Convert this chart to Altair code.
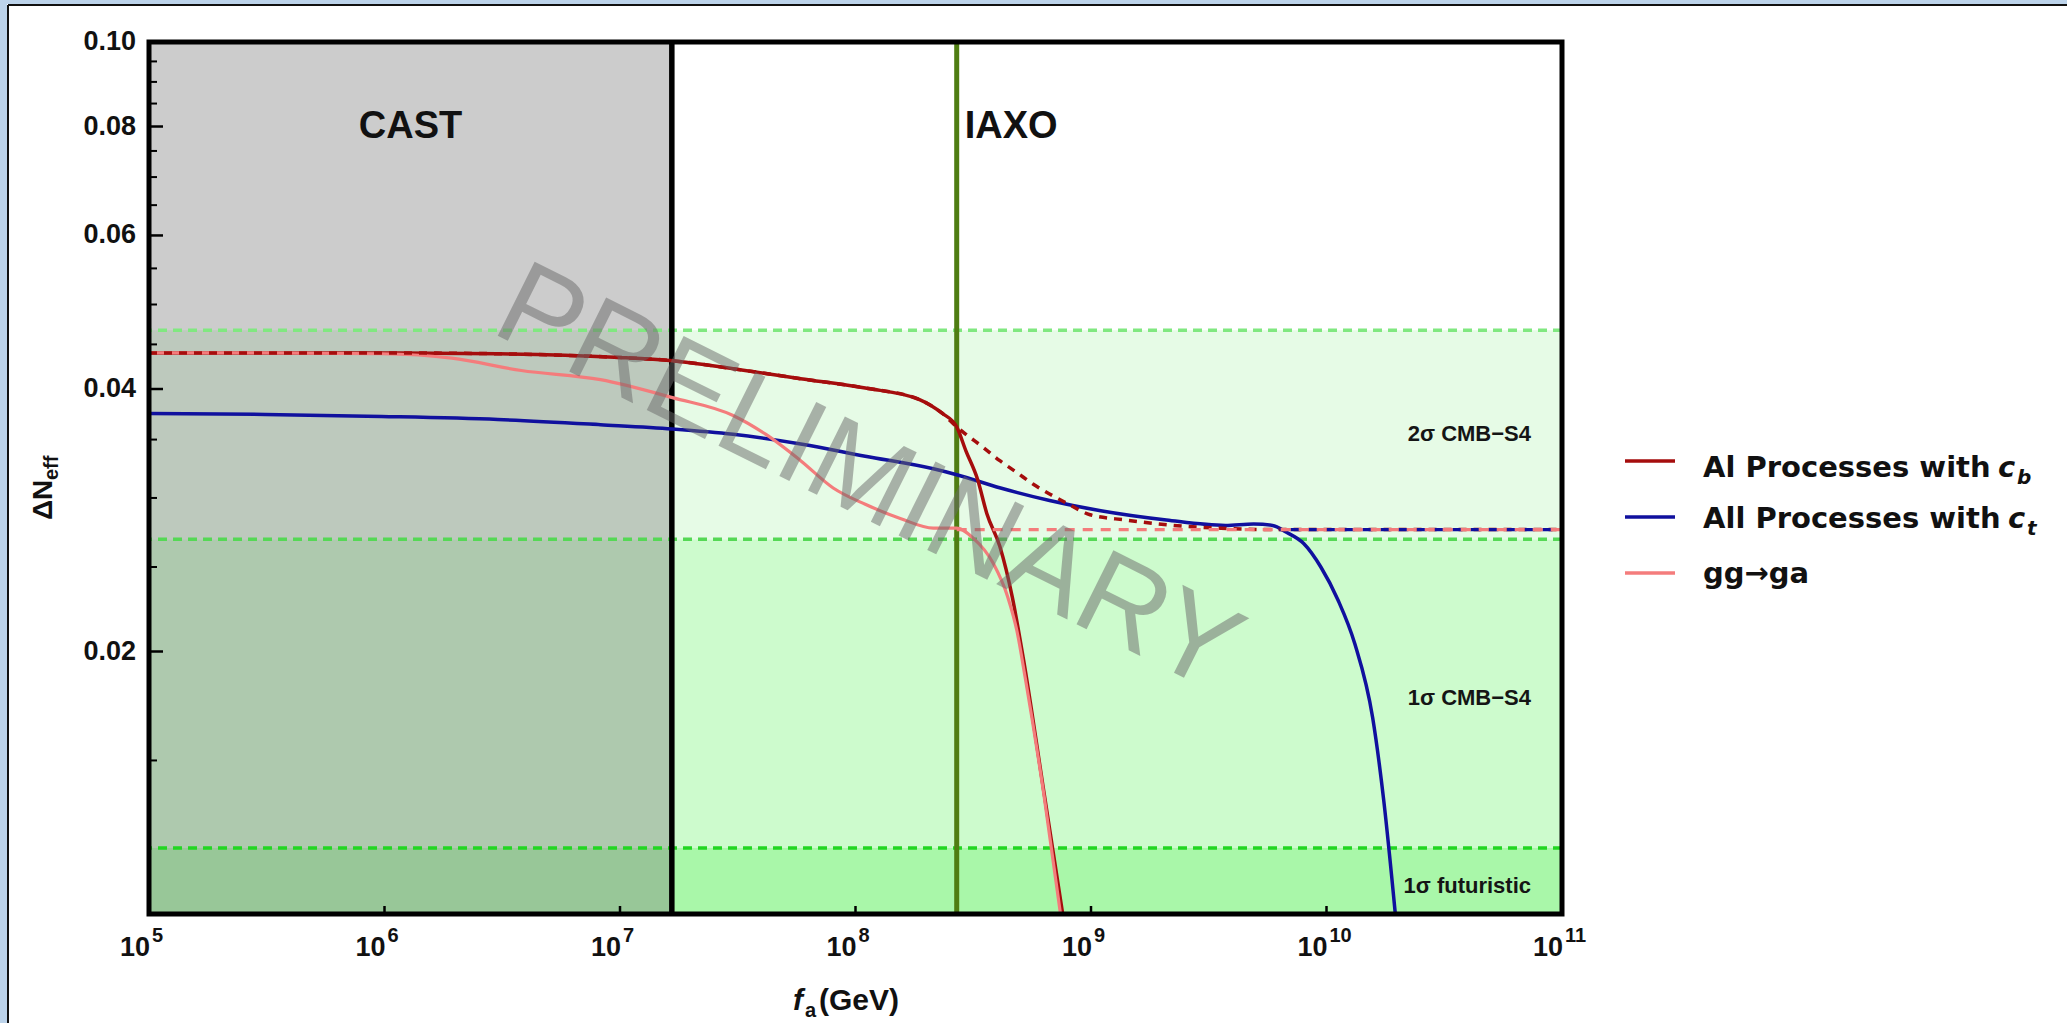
import altair as alt
import pandas as pd

# ---------------------------------------------------------------- page / plot geometry
PAGE_W, PAGE_H = 2067, 1023
L, T, W, H = 149, 42, 1413, 872

SANS = "Liberation Sans, Arial, Helvetica, sans-serif"
WIDE = "DejaVu Sans, Verdana, sans-serif"

# ---------------------------------------------------------------- axis ranges
FA_MIN, FA_MAX = 1e5, 1e11
DN_MIN, DN_MAX = 0.01, 0.10

x_tick_fa = [1e5, 1e6, 1e7, 1e8, 1e9, 1e10, 1e11]
x_tick_exp = ["5", "6", "7", "8", "9", "10", "11"]
y_tick_major = [0.02, 0.04, 0.06, 0.08, 0.10]
y_tick_minor = [0.015, 0.025, 0.03, 0.035, 0.045, 0.05, 0.055,
                0.065, 0.07, 0.075, 0.085, 0.09, 0.095]

# ---------------------------------------------------------------- experimental reach
cast_fa = 1.66e7
iaxo_fa = 2.69e8

# ---------------------------------------------------------------- CMB-S4 sensitivity bands
band_names = ["1σ futuristic", "1σ CMB−S4", "2σ CMB−S4"]
band_lo = [0.0100, 0.0119, 0.0269]
band_hi = [0.0119, 0.0269, 0.0467]
band_fill = ["#a9f7a9", "#cdfbcd", "#e6fbe6"]
band_edge_color = ["#22d622", "#55d855", "#80e880"]
band_label_dn = [0.01076, 0.0177, 0.0355]

# ---------------------------------------------------------------- Delta N_eff curves
# all processes with c_b (solid part)
cb_fa = [1.0e5, 3.12e5, 9.72e5, 3.03e6, 9.46e6, 1.67e7, 3.02e7, 5.85e7, 1.10e8, 1.87e8,
         2.09e8, 2.34e8, 2.69e8, 2.94e8, 3.30e8, 3.61e8, 4.10e8, 4.63e8, 5.15e8, 6.31e8, 7.67e8]
cb_dn = [0.0440, 0.0440, 0.0440, 0.0439, 0.0435, 0.0431, 0.0422, 0.0411, 0.0401, 0.0389,
         0.0383, 0.0375, 0.0362, 0.0340, 0.0315, 0.0288, 0.0264, 0.0231, 0.0197, 0.0138, 0.0098]
# c_b continuation (dashed)
cb_tail_fa = [2.94e8, 3.48e8, 4.10e8, 4.83e8, 5.69e8, 6.70e8, 7.87e8, 9.91e8, 1.41e9,
              2.24e9, 3.55e9, 5.62e9, 1.0e11]
cb_tail_dn = [0.0355, 0.0343, 0.0331, 0.0321, 0.0311, 0.0303, 0.0296, 0.0287, 0.0283,
              0.0279, 0.0277, 0.0276, 0.0276]

# all processes with c_t
ct_fa = [1.0e5, 3.12e5, 9.72e5, 3.03e6, 8.26e6, 1.67e7, 3.02e7, 5.85e7, 1.10e8, 2.14e8,
         2.69e8, 4.13e8, 6.67e8, 1.10e9, 2.09e9, 3.72e9, 4.9e9, 5.9e9, 6.76e9, 8.0e9, 9.46e9,
         1.12e10, 1.32e10, 1.57e10, 1.75e10, 1.96e10]
ct_dn = [0.0375, 0.0374, 0.0372, 0.0369, 0.0364, 0.0360, 0.0355, 0.0346, 0.0335, 0.0324,
         0.0319, 0.0308, 0.0298, 0.0290, 0.0283, 0.0279, 0.0280, 0.0279, 0.0274, 0.0266, 0.0250,
         0.0229, 0.0204, 0.0168, 0.0135, 0.0100]
ct_tail_fa = [6.31e9, 1.0e11]
ct_tail_dn = [0.0276, 0.0276]

# g g -> g a
gg_fa = [1.0e5, 3.12e5, 9.72e5, 1.93e6, 3.81e6, 8.26e6, 1.67e7, 3.02e7, 4.15e7, 5.85e7,
         8.04e7, 1.10e8, 1.56e8, 2.14e8, 2.69e8, 3.15e8, 3.86e8, 4.43e8, 4.85e8, 5.25e8,
         6.31e8, 7.50e8]
gg_dn = [0.0440, 0.0440, 0.0439, 0.0434, 0.0420, 0.0410, 0.0391, 0.0373, 0.0355, 0.0331,
         0.0308, 0.0295, 0.0284, 0.0277, 0.0277, 0.0270, 0.0252, 0.0231, 0.0211, 0.0187,
         0.0137, 0.0098]
gg_tail_fa = [2.69e8, 1.0e11]
gg_tail_dn = [0.0276, 0.0276]

series_label = ["Al Processes with", "All Processes with", "gg→ga"]
series_sub = ["b", "t", ""]
series_color = ["#a50d0d", "#10109e", "#f47c7c"]

# ---------------------------------------------------------------- helpers
xs = alt.Scale(type="log", domain=[FA_MIN, FA_MAX], nice=False)
ys = alt.Scale(type="log", domain=[DN_MIN, DN_MAX], nice=False)


def X(field):
    return alt.X(f"{field}:Q", scale=xs, axis=None)


def Y(field):
    return alt.Y(f"{field}:Q", scale=ys, axis=None)


def one(value="", key="t"):
    return pd.DataFrame({key: [value]})


def label(text, x, y, **kw):
    return alt.Chart(one(text)).mark_text(**kw).encode(
        x=alt.value(x), y=alt.value(y), text="t:N")


def curve(fa, dn, color, width, dash=None, offset=None):
    props = dict(color=color, strokeWidth=width, interpolate="monotone", clip=True)
    if dash:
        props["strokeDash"] = dash
    if offset:
        props["strokeDashOffset"] = offset
    return alt.Chart(pd.DataFrame({"fa": fa, "dn": dn})).mark_line(**props).encode(
        x=X("fa"), y=Y("dn"), order="fa:Q")


layers = []

# ---------------------------------------------------------------- slide frame around the figure
layers.append(alt.Chart(one()).mark_rect(color="#bcd3ea").encode(
    x=alt.value(-L), x2=alt.value(PAGE_W - L), y=alt.value(-T), y2=alt.value(-T + 4)))
layers.append(alt.Chart(one()).mark_rect(color="#bcd3ea").encode(
    x=alt.value(-L), x2=alt.value(-L + 7), y=alt.value(-T), y2=alt.value(PAGE_H - T)))
layers.append(alt.Chart(one()).mark_rule(color="#111111", strokeWidth=2).encode(
    x=alt.value(-L + 8), x2=alt.value(PAGE_W - L), y=alt.value(-T + 5)))
layers.append(alt.Chart(one()).mark_rule(color="#111111", strokeWidth=2).encode(
    x=alt.value(-L + 8), y=alt.value(-T + 5), y2=alt.value(PAGE_H - T)))

# ---------------------------------------------------------------- sensitivity bands
bands = pd.DataFrame({"name": band_names, "lo": band_lo, "hi": band_hi,
                      "fill": band_fill, "edge": band_edge_color,
                      "label_dn": band_label_dn, "x0": FA_MIN, "x1": FA_MAX})
layers.append(alt.Chart(bands).mark_rect(clip=True).encode(
    x=X("x0"), x2="x1", y=Y("lo"), y2="hi",
    color=alt.Color("fill:N", scale=None)))

# CAST excluded region
layers.append(alt.Chart(pd.DataFrame({"x0": [FA_MIN], "x1": [cast_fa],
                                      "y0": [DN_MIN], "y1": [DN_MAX]}))
              .mark_rect(color="#7f7f7f", opacity=0.40, clip=True)
              .encode(x=X("x0"), x2="x1", y=Y("y0"), y2="y1"))

# dashed band edges
layers.append(alt.Chart(bands).mark_rule(strokeWidth=3.5, strokeDash=[9, 6]).encode(
    y=Y("hi"), color=alt.Color("edge:N", scale=None)))

# experiment boundaries
layers.append(alt.Chart(pd.DataFrame({"fa": [cast_fa]})).mark_rule(
    color="black", strokeWidth=5.5).encode(x=X("fa")))
layers.append(alt.Chart(pd.DataFrame({"fa": [iaxo_fa]})).mark_rule(
    color="#4f7d12", strokeWidth=5).encode(x=X("fa")))

# ---------------------------------------------------------------- curves
split = cb_fa.index(iaxo_fa)
cb_dash_fa = cb_fa[:split + 1] + cb_tail_fa
cb_dash_dn = cb_dn[:split + 1] + cb_tail_dn

layers.append(curve(ct_fa, ct_dn, series_color[1], 3.5))
layers.append(curve(cb_fa, cb_dn, series_color[0], 3.5))
layers.append(curve(gg_fa, gg_dn, series_color[2], 3.2))
layers.append(curve(cb_dash_fa, cb_dash_dn, series_color[0], 3.5, dash=[8, 7]))
layers.append(curve(ct_tail_fa, ct_tail_dn, series_color[1], 3.2, dash=[10, 8], offset=7))
layers.append(curve(gg_tail_fa, gg_tail_dn, series_color[2], 3.2, dash=[10, 8]))

# ---------------------------------------------------------------- in-plot labels
layers.append(alt.Chart(bands).mark_text(
    align="right", baseline="middle", font=SANS, fontSize=22, fontWeight="bold",
    color="#151515").encode(x=alt.value(1531 - L), y=Y("label_dn"), text="name:N"))

exp_labels = pd.DataFrame({"name": ["CAST", "IAXO"], "fa": [1.29e6, iaxo_fa],
                           "dn": [0.08, 0.08]})
layers.append(alt.Chart(exp_labels.iloc[[0]]).mark_text(
    align="center", baseline="middle", font=SANS, fontSize=38, fontWeight="bold",
    color="#111111").encode(x=X("fa"), y=Y("dn"), text="name:N"))
layers.append(alt.Chart(exp_labels.iloc[[1]]).mark_text(
    align="left", baseline="middle", dx=8, font=SANS, fontSize=38, fontWeight="bold",
    color="#111111").encode(x=X("fa"), y=Y("dn"), text="name:N"))

# watermark
layers.append(label("PRELIMINARY", 868 - L, 480 - T, align="center", baseline="middle",
                    angle=26.5, font=SANS, fontSize=120, color="#6a6a6a", opacity=0.5))

# ---------------------------------------------------------------- ticks and frame
layers.append(alt.Chart(pd.DataFrame({"v": y_tick_major})).mark_rule(
    color="black", strokeWidth=2.5).encode(y=Y("v"), x=alt.value(0), x2=alt.value(14)))
layers.append(alt.Chart(pd.DataFrame({"v": y_tick_minor})).mark_rule(
    color="black", strokeWidth=2).encode(y=Y("v"), x=alt.value(0), x2=alt.value(8)))
layers.append(alt.Chart(pd.DataFrame({"fa": x_tick_fa})).mark_rule(
    color="black", strokeWidth=2.5).encode(x=X("fa"), y=alt.value(H - 8), y2=alt.value(H)))

layers.append(alt.Chart(one()).mark_rect(
    fill="transparent", stroke="black", strokeWidth=5).encode(
    x=alt.value(0), x2=alt.value(W), y=alt.value(0), y2=alt.value(H)))

# tick labels
layers.append(alt.Chart(pd.DataFrame({"v": y_tick_major})).mark_text(
    align="right", baseline="middle", font=SANS, fontSize=27, fontWeight="bold",
    color="#111111").encode(x=alt.value(-13), y=Y("v"), text=alt.Text("v:Q", format=".2f")))

xt = pd.DataFrame({"fa": x_tick_fa, "base": ["10"] * len(x_tick_fa), "exp": x_tick_exp})
layers.append(alt.Chart(xt).mark_text(
    align="right", baseline="alphabetic", dx=1, font=SANS, fontSize=27, fontWeight="bold",
    color="#111111").encode(x=X("fa"), y=alt.value(H + 42), text="base:N"))
layers.append(alt.Chart(xt).mark_text(
    align="left", baseline="alphabetic", dx=3, font=SANS, fontSize=20, fontWeight="bold",
    color="#111111").encode(x=X("fa"), y=alt.value(H + 28), text="exp:N"))

# ---------------------------------------------------------------- axis titles
layers.append(label("f", 644, 968, align="left", baseline="alphabetic", font=SANS,
                    fontSize=30, fontWeight="bold", fontStyle="italic", color="#111111"))
layers.append(label("a", 656, 975, align="left", baseline="alphabetic", font=SANS,
                    fontSize=20, fontWeight="bold", color="#111111"))
layers.append(label("(GeV)", 670, 968, align="left", baseline="alphabetic", font=SANS,
                    fontSize=30, fontWeight="bold", color="#111111"))

layers.append(label("ΔN", -97, 478, align="left", baseline="alphabetic", angle=270,
                    font=SANS, fontSize=28, fontWeight="bold", color="#111111"))
layers.append(label("eff", -91, 438, align="left", baseline="alphabetic", angle=270,
                    font=SANS, fontSize=20, fontWeight="bold", color="#111111"))

# ---------------------------------------------------------------- legend
swatch_y = [419, 475, 531]
text_y = [435, 486, 541]
c_x = [1849, 1859]
for i, name in enumerate(series_label):
    layers.append(alt.Chart(one()).mark_rule(color=series_color[i], strokeWidth=3.5).encode(
        x=alt.value(1476), x2=alt.value(1526), y=alt.value(swatch_y[i])))
    layers.append(label(name, 1554, text_y[i], align="left", baseline="alphabetic",
                        font=WIDE, fontSize=29, fontWeight="bold", color="#111111"))
    if series_sub[i]:
        layers.append(label("c", c_x[i], text_y[i], align="left", baseline="alphabetic",
                            font=WIDE, fontSize=29, fontWeight="bold", fontStyle="italic",
                            color="#111111"))
        layers.append(label(series_sub[i], c_x[i] + 19, text_y[i] + 7, align="left",
                            baseline="alphabetic", font=WIDE, fontSize=20, fontWeight="bold",
                            fontStyle="italic", color="#111111"))

chart = alt.layer(*layers).properties(
    width=W, height=H,
    autosize=alt.AutoSizeParams(type="none"),
    padding={"left": L, "top": T, "right": PAGE_W - L - W, "bottom": PAGE_H - T - H},
).configure(background="white").configure_view(stroke=None)

chart.save("out.html", embed_options={"renderer": "svg", "actions": False})
